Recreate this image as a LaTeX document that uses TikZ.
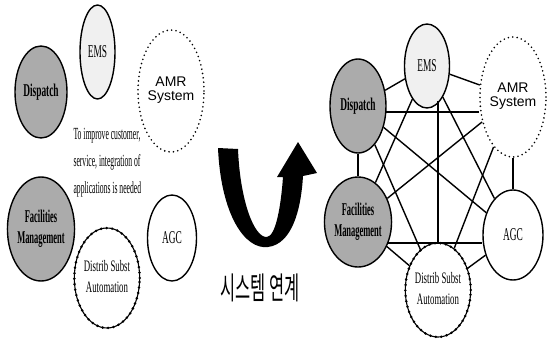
\documentclass[tikz,border=0pt]{standalone}
\usepackage{fontspec}
\usepackage{graphicx}
\setmainfont{Liberation Serif}
\newfontfamily\arialfont{Liberation Sans}
\newfontfamily\korfont{Noto Sans CJK KR}
\usetikzlibrary{shapes.geometric}
\newcommand\slim[2][0.52]{\scalebox{#1}[1]{#2}}
\newcommand\two[2]{\begin{tabular}{@{}c@{}}#1\\#2\end{tabular}}

\tikzset{
  unit/.style={ellipse, draw, line width=1.4pt, inner sep=0pt, font=\fontsize{18}{21}\selectfont},
  wh/.style 2 args={minimum width=#1pt, minimum height=#2pt},
  shaded/.style={unit, fill=black!33, font=\fontsize{18}{21}\selectfont\bfseries},
  pale/.style={unit, fill=black!6},
  dots/.style={unit, line width=1.8pt, dash pattern=on 0pt off 4.4pt, line cap=round, font=\arialfont\fontsize{14}{14}\selectfont},
  beaded/.style={unit, line width=1.1pt, preaction={draw, line width=2.8pt, dash pattern=on 0pt off 5.5pt, line cap=round}, font=\fontsize{16}{21}\selectfont},
  link/.style={line width=1.4pt},
  mainlink/.style={line width=2.4pt},
}

\begin{document}
\begin{tikzpicture}[x=1pt,y=-1pt]
    \useasboundingbox (0,0) rectangle (558,341);
    % before: separate applications
    \node[shaded, wh={52}{92}] (Ldisp) at (41,92) {\slim{Dispatch}};
    \node[pale, wh={35}{94}] (Lems) at (97.5,52) {\slim{EMS}};
    \node[dots, wh={66}{122}] (Lamr) at (171,91) {\two{AMR}{System}};
    \node[shaded, wh={52}{104}] (Lfac) at (41,229) {\slim[0.47]{\two{Facilities}{Management}}};
    \node[unit, wh={49}{86}] (Lagc) at (172,238) {\slim{AGC}};
    \node[beaded, wh={54}{100}] (Ldist) at (107,278) {\slim[0.55]{\two{Distrib Subst}{Automation}}};
    \node[anchor=west, font=\fontsize{17}{27}\selectfont] (goal) at (70,161)
        {\slim[0.45]{\begin{tabular}{@{}l@{}}To improve customer,\\service, integration of\\applications is needed\end{tabular}}};

    % turn-around arrow
    \fill (218,148) .. controls (221,215) and (245,250) .. (268,247)
        .. controls (292,244) and (301,210) .. (303,176)
        -- (317,173) -- (298,142) -- (277,177) -- (283,177)
        .. controls (281,205) and (276,236) .. (267,237)
        .. controls (254,238) and (240,200) .. (238,149) -- cycle;
    \node[font=\korfont\fontsize{31}{31}\selectfont] (label) at (260,288) {\scalebox{0.53}[1]{시스템 연계}};

    % after: integrated applications
    \node[shaded, wh={56}{94}] (Rdisp) at (358,106) {\slim{Dispatch}};
    \node[pale, wh={45}{84}] (Rems) at (427,66) {\slim{EMS}};
    \node[dots, wh={66}{120}] (Ramr) at (513,97) {\two{AMR}{System}};
    \node[shaded, wh={56}{90}] (Rfac) at (358,222) {\slim[0.47]{\two{Facilities}{Management}}};
    \node[unit, wh={60}{90}] (Ragc) at (513,235) {\slim{AGC}};
    \node[beaded, wh={60}{94}] (Rdist) at (438,290) {\slim[0.55]{\two{Distrib Subst}{Automation}}};

    \draw[mainlink] (Rdisp.-12) -- (Rdisp.-12 -| Ramr.west);
    \draw[mainlink] (Rfac.-35) -- (Rfac.-35 -| Ragc.west);
    \draw[link] (Rdist.north) -- (Rdist.north |- Rems.-70);
    \draw[link] (Rdisp) -- (Rems);
    \draw[link] (Rems) -- (Ramr);
    \draw[link] (Rdisp) -- (Rfac);
    \draw[link] (Ramr) -- (Ragc);
    \draw[link] (Rdisp) -- (Ragc);
    \draw[link] (Rdisp) -- (Rdist);
    \draw[link] (Rems) -- (Rfac);
    \draw[link] (Rems) -- (Ragc);
    \draw[link] (Ramr) -- (Rfac);
    \draw[link] (Ramr) -- (Rdist);
    \draw[link] (Rfac) -- (Rdist);
    \draw[link] (Rdist) -- (Ragc);
\end{tikzpicture}
\end{document}
